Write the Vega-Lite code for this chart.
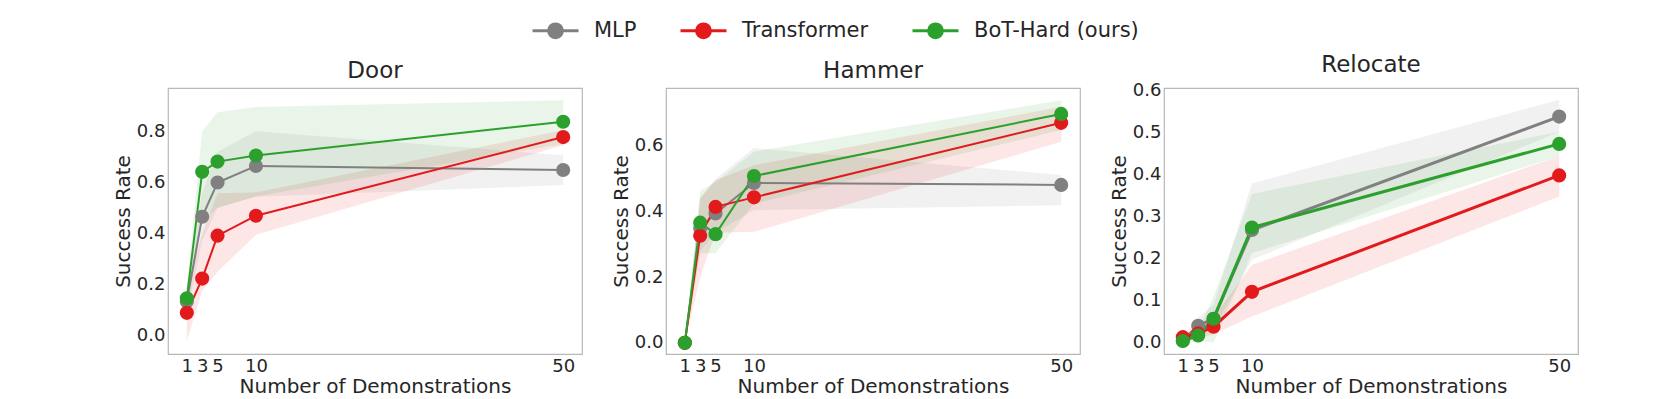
{
  "$schema": "https://vega.github.io/schema/vega-lite/v6.json",
  "autosize": {"type": "pad"},
  "padding": {"left": 112, "top": 6, "right": 60, "bottom": 5},
  "background": "white",
  "bounds": "flush",
  "spacing": 84,
  "config": {
    "font": "DejaVu Sans",
    "view": {"stroke": "#b8b8b8", "strokeWidth": 1.2},
    "axis": {"grid": false, "ticks": false, "domain": false, "labelColor": "#262626", "titleColor": "#262626", "labelFont": "DejaVu Sans", "titleFont": "DejaVu Sans", "labelFontSize": 18, "titleFontSize": 20, "titleFontWeight": "normal", "labelOverlap": false, "labelBound": false, "labelFlush": false},
    "title": {"font": "DejaVu Sans", "fontSize": 23, "fontWeight": "normal", "color": "#262626", "offset": 5},
    "legend": {"labelFont": "DejaVu Sans", "labelFontSize": 21, "labelColor": "#262626", "labelLimit": 400}
  },
  "datasets": {
    "d": [
      {"task": "Door", "method": "MLP", "n": 1, "y": 0.133, "lo": 0.08, "hi": 0.19},
      {"task": "Door", "method": "MLP", "n": 3, "y": 0.465, "lo": 0.37, "hi": 0.56},
      {"task": "Door", "method": "MLP", "n": 5, "y": 0.599, "lo": 0.50, "hi": 0.72},
      {"task": "Door", "method": "MLP", "n": 10, "y": 0.664, "lo": 0.543, "hi": 0.80},
      {"task": "Door", "method": "MLP", "n": 50, "y": 0.648, "lo": 0.589, "hi": 0.706},
      {"task": "Door", "method": "Transformer", "n": 1, "y": 0.089, "lo": -0.02, "hi": 0.19},
      {"task": "Door", "method": "Transformer", "n": 3, "y": 0.223, "lo": 0.175, "hi": 0.40},
      {"task": "Door", "method": "Transformer", "n": 5, "y": 0.391, "lo": 0.25, "hi": 0.557},
      {"task": "Door", "method": "Transformer", "n": 10, "y": 0.469, "lo": 0.395, "hi": 0.56},
      {"task": "Door", "method": "Transformer", "n": 50, "y": 0.777, "lo": 0.745, "hi": 0.804},
      {"task": "Door", "method": "BoT-Hard (ours)", "n": 1, "y": 0.146, "lo": 0.10, "hi": 0.19},
      {"task": "Door", "method": "BoT-Hard (ours)", "n": 3, "y": 0.641, "lo": 0.45, "hi": 0.80},
      {"task": "Door", "method": "BoT-Hard (ours)", "n": 5, "y": 0.681, "lo": 0.50, "hi": 0.874},
      {"task": "Door", "method": "BoT-Hard (ours)", "n": 10, "y": 0.705, "lo": 0.545, "hi": 0.895},
      {"task": "Door", "method": "BoT-Hard (ours)", "n": 50, "y": 0.837, "lo": 0.75, "hi": 0.921},
      {"task": "Hammer", "method": "MLP", "n": 1, "y": 0.0, "lo": 0.0, "hi": 0.0},
      {"task": "Hammer", "method": "MLP", "n": 3, "y": 0.35, "lo": 0.28, "hi": 0.44},
      {"task": "Hammer", "method": "MLP", "n": 5, "y": 0.394, "lo": 0.335, "hi": 0.50},
      {"task": "Hammer", "method": "MLP", "n": 10, "y": 0.487, "lo": 0.404, "hi": 0.593},
      {"task": "Hammer", "method": "MLP", "n": 50, "y": 0.481, "lo": 0.419, "hi": 0.511},
      {"task": "Hammer", "method": "Transformer", "n": 1, "y": 0.0, "lo": 0.0, "hi": 0.0},
      {"task": "Hammer", "method": "Transformer", "n": 3, "y": 0.326, "lo": 0.20, "hi": 0.44},
      {"task": "Hammer", "method": "Transformer", "n": 5, "y": 0.414, "lo": 0.335, "hi": 0.495},
      {"task": "Hammer", "method": "Transformer", "n": 10, "y": 0.443, "lo": 0.338, "hi": 0.541},
      {"task": "Hammer", "method": "Transformer", "n": 50, "y": 0.670, "lo": 0.612, "hi": 0.719},
      {"task": "Hammer", "method": "BoT-Hard (ours)", "n": 1, "y": 0.0, "lo": 0.0, "hi": 0.0},
      {"task": "Hammer", "method": "BoT-Hard (ours)", "n": 3, "y": 0.366, "lo": 0.273, "hi": 0.462},
      {"task": "Hammer", "method": "BoT-Hard (ours)", "n": 5, "y": 0.331, "lo": 0.273, "hi": 0.49},
      {"task": "Hammer", "method": "BoT-Hard (ours)", "n": 10, "y": 0.508, "lo": 0.424, "hi": 0.582},
      {"task": "Hammer", "method": "BoT-Hard (ours)", "n": 50, "y": 0.697, "lo": 0.648, "hi": 0.739},
      {"task": "Relocate", "method": "MLP", "n": 1, "y": 0.005, "lo": 0.0, "hi": 0.015},
      {"task": "Relocate", "method": "MLP", "n": 3, "y": 0.04, "lo": 0.02, "hi": 0.06},
      {"task": "Relocate", "method": "MLP", "n": 5, "y": 0.057, "lo": 0.03, "hi": 0.09},
      {"task": "Relocate", "method": "MLP", "n": 10, "y": 0.268, "lo": 0.197, "hi": 0.379},
      {"task": "Relocate", "method": "MLP", "n": 50, "y": 0.538, "lo": 0.502, "hi": 0.578},
      {"task": "Relocate", "method": "Transformer", "n": 1, "y": 0.013, "lo": 0.005, "hi": 0.02},
      {"task": "Relocate", "method": "Transformer", "n": 3, "y": 0.022, "lo": 0.01, "hi": 0.035},
      {"task": "Relocate", "method": "Transformer", "n": 5, "y": 0.038, "lo": 0.02, "hi": 0.06},
      {"task": "Relocate", "method": "Transformer", "n": 10, "y": 0.121, "lo": 0.062, "hi": 0.185},
      {"task": "Relocate", "method": "Transformer", "n": 50, "y": 0.398, "lo": 0.348, "hi": 0.444},
      {"task": "Relocate", "method": "BoT-Hard (ours)", "n": 1, "y": 0.004, "lo": -0.005, "hi": 0.015},
      {"task": "Relocate", "method": "BoT-Hard (ours)", "n": 3, "y": 0.017, "lo": 0.005, "hi": 0.03},
      {"task": "Relocate", "method": "BoT-Hard (ours)", "n": 5, "y": 0.057, "lo": 0.0, "hi": 0.11},
      {"task": "Relocate", "method": "BoT-Hard (ours)", "n": 10, "y": 0.274, "lo": 0.213, "hi": 0.354},
      {"task": "Relocate", "method": "BoT-Hard (ours)", "n": 50, "y": 0.473, "lo": 0.444, "hi": 0.502}
    ]
  },
  "resolve": {"scale": {"y": "independent", "color": "shared"}},
  "hconcat": [
    {
      "title": "Door",
      "width": 414, "height": 266,
      "data": {"name": "d"},
      "transform": [{"filter": "datum.task === 'Door'"}],
      "encoding": {
        "x": {"field": "n", "type": "quantitative", "scale": {"domain": [-1.45, 52.45], "nice": false, "zero": false}, "axis": {"values": [1, 3, 5, 10, 50], "title": "Number of Demonstrations", "labelPadding": 3, "titlePadding": 1}},
        "color": {"field": "method", "type": "nominal", "scale": {"domain": ["MLP", "Transformer", "BoT-Hard (ours)"], "range": ["#808080", "#e31a1c", "#2ca02c"]},
          "legend": {"orient": "none", "legendX": 363, "legendY": -82, "direction": "horizontal", "title": null, "symbolType": "M-1,0L1,0M-0.3,0A0.3,0.3,0,1,1,0.3,0A0.3,0.3,0,1,1,-0.3,0", "symbolSize": 2116, "symbolStrokeWidth": 3, "labelOffset": 14, "columnPadding": 37, "symbolOpacity": 1,
            "encode": {"symbols": {"update": {"fill": {"scale": "color", "field": "value"}, "stroke": {"scale": "color", "field": "value"}, "opacity": {"value": 1}, "fillOpacity": {"value": 1}, "strokeOpacity": {"value": 1}}}}}}
      },
      "layer": [
        {"mark": {"type": "area", "opacity": 0.11}, "encoding": {"y": {"field": "lo", "type": "quantitative"}, "y2": {"field": "hi"}}},
        {"mark": {"type": "line", "strokeWidth": 2}, "encoding": {"y": {"field": "y", "type": "quantitative", "scale": {"domain": [-0.072, 0.969], "nice": false, "zero": false}, "axis": {"values": [0, 0.2, 0.4, 0.6, 0.8], "format": ".1f", "title": "Success Rate", "labelPadding": 3, "titlePadding": 3}}}},
        {"mark": {"type": "point", "filled": true, "size": 200, "opacity": 1}, "encoding": {"y": {"field": "y", "type": "quantitative"}}}
      ]
    },
    {
      "title": "Hammer",
      "width": 414, "height": 266,
      "data": {"name": "d"},
      "transform": [{"filter": "datum.task === 'Hammer'"}],
      "encoding": {
        "x": {"field": "n", "type": "quantitative", "scale": {"domain": [-1.45, 52.45], "nice": false, "zero": false}, "axis": {"values": [1, 3, 5, 10, 50], "title": "Number of Demonstrations", "labelPadding": 3, "titlePadding": 1}},
        "color": {"field": "method", "type": "nominal"}
      },
      "layer": [
        {"mark": {"type": "area", "opacity": 0.11}, "encoding": {"y": {"field": "lo", "type": "quantitative"}, "y2": {"field": "hi"}}},
        {"mark": {"type": "line", "strokeWidth": 2}, "encoding": {"y": {"field": "y", "type": "quantitative", "scale": {"domain": [-0.034, 0.776], "nice": false, "zero": false}, "axis": {"values": [0, 0.2, 0.4, 0.6], "format": ".1f", "title": "Success Rate", "labelPadding": 3, "titlePadding": 3}}}},
        {"mark": {"type": "point", "filled": true, "size": 200, "opacity": 1}, "encoding": {"y": {"field": "y", "type": "quantitative"}}}
      ]
    },
    {
      "title": "Relocate",
      "width": 414, "height": 266,
      "data": {"name": "d"},
      "transform": [{"filter": "datum.task === 'Relocate'"}],
      "encoding": {
        "x": {"field": "n", "type": "quantitative", "scale": {"domain": [-1.45, 52.45], "nice": false, "zero": false}, "axis": {"values": [1, 3, 5, 10, 50], "title": "Number of Demonstrations", "labelPadding": 3, "titlePadding": 1}},
        "color": {"field": "method", "type": "nominal"}
      },
      "layer": [
        {"mark": {"type": "area", "opacity": 0.11}, "encoding": {"y": {"field": "lo", "type": "quantitative"}, "y2": {"field": "hi"}}},
        {"mark": {"type": "line", "strokeWidth": 3}, "encoding": {"y": {"field": "y", "type": "quantitative", "scale": {"domain": [-0.027, 0.606], "nice": false, "zero": false}, "axis": {"values": [0, 0.1, 0.2, 0.3, 0.4, 0.5, 0.6], "format": ".1f", "title": "Success Rate", "labelPadding": 3, "titlePadding": 3}}}},
        {"mark": {"type": "point", "filled": true, "size": 200, "opacity": 1}, "encoding": {"y": {"field": "y", "type": "quantitative"}}}
      ]
    }
  ]
}
